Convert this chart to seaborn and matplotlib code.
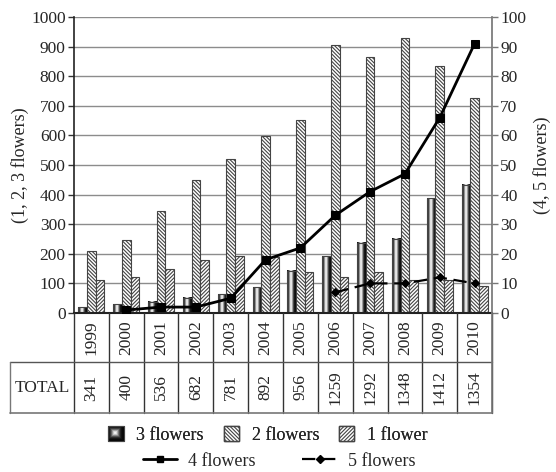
import numpy as np
import pandas as pd
import matplotlib.pyplot as plt
import seaborn as sns
from matplotlib.patches import Rectangle, Patch
from matplotlib.lines import Line2D
from matplotlib.legend_handler import HandlerPatch
from matplotlib.image import BboxImage
from matplotlib.transforms import Bbox, TransformedBbox

# -------------------------------
# Data
# -------------------------------
years = ["1999", "2000", "2001", "2002", "2003", "2004",
         "2005", "2006", "2007", "2008", "2009", "2010"]
three_flowers = [20, 30, 38, 51, 63, 87, 142, 192, 238, 251, 388, 434]
two_flowers = [210, 248, 346, 449, 519, 598, 653, 905, 864, 930, 836, 727]
one_flower = [111, 121, 150, 180, 194, 189, 139, 122, 139, 110, 110, 92]
four_flowers = [np.nan, 1, 2, 2, 5, 18, 22, 33, 41, 47, 66, 91]
five_flowers = [np.nan] * 7 + [7, 10, 10, 12, 10]
totals = [341, 400, 536, 682, 781, 892, 956, 1259, 1292, 1348, 1412, 1354]

bar_series = ["3 flowers", "2 flowers", "1 flower"]

sns.set_theme(style="white")
plt.rcParams["font.family"] = ["Liberation Serif", "DejaVu Serif"]
plt.rcParams["hatch.color"] = "#4d4d4d"
plt.rcParams["hatch.linewidth"] = 0.8

FS = 12
EDGE = "#444444"

bars = pd.DataFrame({
    "year": years * 3,
    "count": three_flowers + two_flowers + one_flower,
    "series": [s for s in bar_series for _ in years],
})

# cylinder-like shading for the "3 flowers" bars
t = np.linspace(0, 1, 64)
profile = 0.02 + 0.95 * np.exp(-((t - 0.45) / 0.24) ** 2)
grad_1d = profile[np.newaxis, :]
grad_2d = np.minimum.outer(profile, profile)

# -------------------------------
# Main chart
# -------------------------------
fig = plt.figure(figsize=(5.56, 4.72), dpi=100)
ax = fig.add_axes([74 / 556, 159 / 472, 418 / 556, 296 / 472])

sns.barplot(data=bars, x="year", y="count", hue="series", hue_order=bar_series,
            palette={s: "white" for s in bar_series}, saturation=1,
            width=0.75, edgecolor=EDGE, linewidth=0.8, legend=False, ax=ax)

hatches = {1: "\\" * 9, 2: "/" * 9}
for k, cont in enumerate(ax.containers):
    for rect in cont:
        rect.set_zorder(2)
        if k == 0:
            rect.set_facecolor("none")
            x0, w, h = rect.get_x(), rect.get_width(), rect.get_height()
            ax.imshow(grad_1d, extent=(x0, x0 + w, 0, h), aspect="auto",
                      cmap="gray", vmin=0, vmax=1, zorder=1.9,
                      interpolation="bilinear")
        else:
            rect.set_hatch(hatches[k])

ax.set_xlim(-0.5, len(years) - 0.5)
ax.set_ylim(0, 1000)
ax.set_yticks(range(0, 1001, 100))
ax.yaxis.grid(True, color="#8c8c8c", linewidth=1)
ax.set_axisbelow(True)
ax.set_xticks([])
ax.set_xlabel("")
ax.set_ylabel("(1, 2, 3 flowers)", fontsize=FS + 1)
ax.yaxis.set_label_coords(-0.108, 0.5)
ax.tick_params(axis="y", left=True, length=4, width=1, color="#333333",
               labelsize=FS + 0.5, pad=2)
for side in ["top", "right"]:
    ax.spines[side].set_visible(False)
ax.spines["left"].set_color("#222222")
ax.spines["bottom"].set_color("#222222")
ax.spines["left"].set_linewidth(1.2)
ax.spines["bottom"].set_linewidth(1.5)

ax2 = ax.twinx()
x_pos = np.arange(len(years))
sns.lineplot(x=x_pos, y=four_flowers, color="black", linewidth=2,
             marker="s", markersize=6, markeredgecolor="black", ax=ax2)
sns.lineplot(x=x_pos, y=five_flowers, color="black", linewidth=1.6,
             linestyle=(0, (6, 3)), marker="D", markersize=4,
             markeredgecolor="black", ax=ax2)
ax2.set_ylim(0, 100)
ax2.set_yticks(range(0, 101, 10))
ax2.set_ylabel("(4, 5 flowers)", fontsize=FS + 1)
ax2.yaxis.set_label_coords(1.098, 0.5)
ax2.tick_params(axis="y", right=True, length=4, width=1, color="#777777",
                labelsize=FS + 0.5, pad=2)
for side in ["top", "left", "bottom"]:
    ax2.spines[side].set_visible(False)
ax2.spines["right"].set_color("#777777")
ax2.set_xlim(-0.5, len(years) - 0.5)

# -------------------------------
# Table under the chart
# -------------------------------
tab = fig.add_axes([74 / 556, 59 / 472, 418 / 556, 100 / 472])
tab.set_xlim(-0.5, len(years) - 0.5)
tab.set_ylim(0, 100)
tab.axis("off")
left_edge = -0.5 - 64 / (418 / len(years))
mid = 51
for i in range(len(years) + 1):
    tab.plot([i - 0.5, i - 0.5], [0, 100], color="#333333", lw=1, clip_on=False)
tab.plot([left_edge, len(years) - 0.5], [mid, mid], color="#555555", lw=1, clip_on=False)
tab.plot([left_edge, len(years) - 0.5], [0, 0], color="#777777", lw=1.2, clip_on=False)
tab.plot([left_edge, left_edge], [0, mid], color="#777777", lw=1, clip_on=False)
tab.plot([len(years) - 0.5] * 2, [0, 100], color="#777777", lw=1.2, clip_on=False)
for i, (yr, tot) in enumerate(zip(years, totals)):
    tab.text(i, (mid + 100) / 2, yr, rotation=90, ha="center", va="center", fontsize=FS + 0.5)
    tab.text(i, mid / 2, str(tot), rotation=90, ha="center", va="center", fontsize=FS + 0.5)
tab.text((left_edge - 0.5) / 2, mid / 2, "TOTAL", ha="center", va="center",
         fontsize=FS + 0.5, clip_on=False)


# -------------------------------
# Legends
# -------------------------------
class GradientHandler(HandlerPatch):
    def create_artists(self, legend, orig_handle, xdescent, ydescent,
                       width, height, fontsize, trans):
        bb = TransformedBbox(Bbox.from_bounds(-xdescent, -ydescent, width, height), trans)
        img = BboxImage(bb, cmap="gray", norm=plt.Normalize(0, 1),
                        interpolation="bilinear")
        img.set_data(grad_2d)
        frame = Rectangle((-xdescent, -ydescent), width, height,
                          facecolor="none", edgecolor=EDGE, lw=0.8, transform=trans)
        return [img, frame]


grad_handle = Patch(facecolor="gray", edgecolor=EDGE)
bar_handles = [
    grad_handle,
    Patch(facecolor="white", edgecolor=EDGE, hatch=hatches[1]),
    Patch(facecolor="white", edgecolor=EDGE, hatch=hatches[2]),
]
leg1 = fig.legend(bar_handles, bar_series, loc="center",
                  bbox_to_anchor=(268 / 556, 37 / 472), ncol=3, frameon=False,
                  fontsize=FS + 1, handlelength=0.85, handleheight=0.85,
                  handletextpad=0.7, columnspacing=1.1,
                  handler_map={grad_handle: GradientHandler()})

line_handles = [
    Line2D([], [], color="black", lw=2, marker="s", markersize=5),
    Line2D([], [], color="black", lw=1.6, linestyle=(0, (6, 3)), marker="D", markersize=4),
]
fig.legend(line_handles, ["4 flowers", "5 flowers"], loc="center",
           bbox_to_anchor=(279 / 556, 11 / 472), ncol=2, frameon=False,
           fontsize=FS + 1, handlelength=1.9, handletextpad=0.6, columnspacing=2.6)
fig.add_artist(leg1)

fig.savefig("out.png", dpi=100)
